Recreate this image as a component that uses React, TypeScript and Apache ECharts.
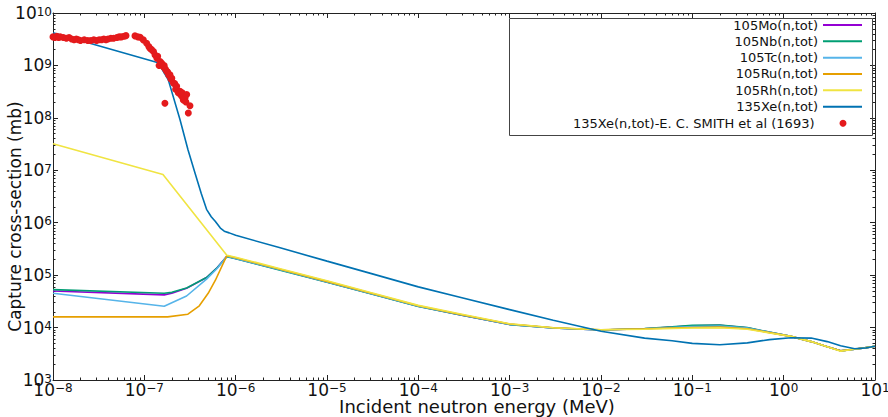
import React, { useEffect, useRef } from 'react';
import * as echarts from 'echarts';

// ---- axis decades (tick labels are 10^n) ----
const xDecades = [-8, -7, -6, -5, -4, -3, -2, -1, 0, 1];
const yDecades = [3, 4, 5, 6, 7, 8, 9, 10];

// ---- series values: [energy (MeV), cross-section (mb)] ----
const mo105: [number, number][] = [
  [1e-8, 5.0e4], [1.65e-7, 4.2e4], [2.0e-7, 4.5e4], [2.9e-7, 5.6e4], [4.8e-7, 9.0e4],
  [6.3e-7, 1.4e5], [8e-7, 2.3e5], [1e-6, 2.08e5], [3e-6, 1.28e5], [1e-5, 7.4e4],
  [3e-5, 4.45e4], [1e-4, 2.55e4], [3e-4, 1.73e4], [1e-3, 1.15e4], [3e-3, 9.8e3],
  [1e-2, 9.0e3], [3e-2, 9.5e3], [6e-2, 1.02e4], [1e-1, 1.08e4], [2e-1, 1.1e4],
  [4e-1, 9.9e3], [7e-1, 8.1e3], [1.2, 6.8e3], [2, 5.4e3], [3, 4.3e3], [4.2, 3.6e3],
  [6, 3.85e3], [8, 4.15e3], [10, 4.4e3],
];
const nb105: [number, number][] = [
  [1e-8, 5.3e4], [1.65e-7, 4.5e4], [2.0e-7, 4.7e4], [2.9e-7, 5.7e4], [4.8e-7, 9.0e4],
  [6.3e-7, 1.4e5], [8e-7, 2.25e5], [1e-6, 2.05e5], [3e-6, 1.26e5], [1e-5, 7.3e4],
  [3e-5, 4.4e4], [1e-4, 2.52e4], [3e-4, 1.72e4], [1e-3, 1.14e4], [3e-3, 9.8e3],
  [1e-2, 9.0e3], [3e-2, 9.6e3], [6e-2, 1.03e4], [1e-1, 1.1e4], [2e-1, 1.12e4],
  [4e-1, 1.0e4], [7e-1, 8.2e3], [1.2, 6.8e3], [2, 5.4e3], [3, 4.3e3], [4.2, 3.6e3],
  [6, 3.85e3], [8, 4.15e3], [10, 4.4e3],
];
const tc105: [number, number][] = [
  [1e-8, 4.5e4], [1.65e-7, 2.55e4], [2.9e-7, 4.0e4], [4.8e-7, 8.4e4], [6.3e-7, 1.35e5],
  [8e-7, 2.3e5], [1e-6, 2.08e5], [3e-6, 1.28e5], [1e-5, 7.4e4], [3e-5, 4.45e4],
  [1e-4, 2.55e4], [3e-4, 1.74e4], [1e-3, 1.15e4], [3e-3, 9.8e3], [1e-2, 9.0e3],
  [3e-2, 9.5e3], [6e-2, 1.0e4], [1e-1, 1.05e4], [2e-1, 1.07e4], [4e-1, 9.8e3],
  [7e-1, 8.1e3], [1.2, 6.8e3], [2, 5.4e3], [3, 4.3e3], [4.2, 3.6e3], [6, 3.85e3],
  [8, 4.15e3], [10, 4.4e3],
];
const ru105: [number, number][] = [
  [1e-8, 1.6e4], [1.8e-7, 1.6e4], [3.0e-7, 1.8e4], [4.0e-7, 2.6e4], [5.0e-7, 4.5e4],
  [6.0e-7, 8.0e4], [8e-7, 2.35e5], [1e-6, 2.15e5], [3e-6, 1.31e5], [1e-5, 7.6e4],
  [3e-5, 4.55e4], [1e-4, 2.6e4], [3e-4, 1.76e4], [1e-3, 1.17e4], [3e-3, 9.9e3],
  [1e-2, 9.1e3], [3e-2, 9.5e3], [6e-2, 9.8e3], [1e-1, 1.0e4], [2e-1, 1.02e4],
  [4e-1, 9.5e3], [7e-1, 8.0e3], [1.2, 6.8e3], [2, 5.4e3], [3, 4.3e3], [4.2, 3.6e3],
  [6, 3.9e3], [8, 4.15e3], [10, 4.4e3],
];
const rh105: [number, number][] = [
  [1e-8, 3.2e7], [1.6e-7, 8.3e6], [8e-7, 2.4e5], [1e-6, 2.2e5], [3e-6, 1.34e5],
  [1e-5, 7.8e4], [3e-5, 4.65e4], [1e-4, 2.65e4], [3e-4, 1.8e4], [1e-3, 1.18e4],
  [3e-3, 9.9e3], [1e-2, 9.1e3], [3e-2, 9.3e3], [6e-2, 9.6e3], [1e-1, 9.8e3],
  [2e-1, 9.9e3], [4e-1, 9.3e3], [7e-1, 7.9e3], [1.2, 6.8e3], [2, 5.4e3], [3, 4.3e3],
  [4.2, 3.55e3], [6, 3.85e3], [8, 4.15e3], [10, 4.4e3],
];
const xe135: [number, number][] = [
  [1e-8, 4.2e9], [1.42e-7, 1.12e9], [1.83e-7, 5.3e8], [2.46e-7, 9.2e7], [3.0e-7, 2.5e7],
  [3.6e-7, 8.7e6], [4.2e-7, 3.6e6], [4.8e-7, 1.8e6], [5.4e-7, 1.3e6], [6.0e-7, 1.05e6],
  [6.8e-7, 7.9e5], [7.5e-7, 6.9e5], [8.5e-7, 6.4e5],
  [1e-6, 5.75e5], [3e-6, 3.36e5], [1e-5, 1.85e5], [3e-5, 1.08e5], [1e-4, 5.97e4],
  [3e-4, 3.7e4], [1e-3, 2.2e4], [3e-3, 1.38e4], [1e-2, 8.5e3], [3e-2, 6.3e3],
  [6e-2, 5.6e3], [1e-1, 5.0e3], [2e-1, 4.7e3], [4e-1, 5.1e3], [7e-1, 5.9e3],
  [1.2, 6.4e3], [2, 6.3e3], [3, 5.4e3], [4.2, 4.5e3], [6, 3.95e3], [8, 4.1e3], [10, 4.4e3],
];
const smithExp: [number, number][] = [
  [1.0e-8, 3.5e9], [1.05e-8, 3.4e9], [1.1e-8, 3.6e9], [1.15e-8, 3.4e9], [1.2e-8, 3.5e9],
  [1.3e-8, 3.4e9], [1.4e-8, 3.3e9], [1.5e-8, 3.4e9], [1.6e-8, 3.2e9], [1.7e-8, 3.1e9],
  [1.8e-8, 3.2e9], [1.9e-8, 3.1e9], [2.0e-8, 3.0e9], [2.2e-8, 3.1e9], [2.4e-8, 3.0e9],
  [2.6e-8, 3.0e9], [2.8e-8, 3.1e9], [3.0e-8, 3.0e9], [3.2e-8, 3.1e9], [3.4e-8, 3.1e9],
  [3.6e-8, 3.2e9], [3.8e-8, 3.1e9], [4.0e-8, 3.2e9], [4.3e-8, 3.3e9], [4.6e-8, 3.3e9],
  [5.0e-8, 3.4e9], [5.3e-8, 3.5e9], [5.6e-8, 3.5e9], [6.0e-8, 3.6e9], [6.3e-8, 3.7e9],
  [7.9e-8, 3.66e9], [8.5e-8, 3.5e9], [9.0e-8, 3.45e9], [9.75e-8, 3.07e9], [1.06e-7, 2.65e9],
  [1.12e-7, 2.3e9], [1.15e-7, 2.13e9], [1.2e-7, 2.0e9], [1.26e-7, 1.84e9], [1.31e-7, 1.58e9],
  [1.37e-7, 1.38e9], [1.4e-7, 1.5e9], [1.45e-7, 1.0e9], [1.49e-7, 1.19e9], [1.55e-7, 1.1e9],
  [1.61e-7, 9.5e8], [1.65e-7, 1.0e9], [1.7e-7, 8.5e8], [1.76e-7, 7.7e8], [1.8e-7, 7.5e8],
  [1.85e-7, 6.5e8], [1.91e-7, 6.6e8], [1.95e-7, 5.5e8], [2.0e-7, 5.7e8], [2.08e-7, 4.6e8],
  [2.15e-7, 4.5e8], [2.2e-7, 3.5e8], [2.26e-7, 4.0e8], [2.35e-7, 3.0e8], [2.46e-7, 3.2e8],
  [2.5e-7, 2.8e8], [2.56e-7, 2.6e8], [2.6e-7, 3.0e8], [2.67e-7, 2.2e8], [2.7e-7, 2.5e8],
  [2.79e-7, 2.4e8], [2.85e-7, 2.0e8], [2.91e-7, 2.8e8], [3.03e-7, 1.24e8], [3.16e-7, 1.7e8],
  [1.68e-7, 1.9e8],
];

const lineNames = ['105Mo(n,tot)', '105Nb(n,tot)', '105Tc(n,tot)', '105Ru(n,tot)', '105Rh(n,tot)', '135Xe(n,tot)'];
const lineData = [mo105, nb105, tc105, ru105, rh105, xe135];
const lineColors = ['#9400d3', '#009e73', '#56b4e9', '#e69f00', '#f0e442', '#0072b2'];
const scatterName = '135Xe(n,tot)-E. C. SMITH et al (1693)';
const scatterColor = '#e41a1c';

export default function App() {
  const ref = useRef<HTMLDivElement>(null);
  useEffect(() => {
    if (!ref.current) return;
    const chart = echarts.init(ref.current, null, { renderer: 'svg' });
    const font = 'DejaVu Sans';
    const axisColor = '#222';
    const minorX: number[] = [];
    xDecades.slice(0, -1).forEach((n) => { for (let k = 2; k <= 9; k++) minorX.push(n + Math.log10(k)); });
    const minorY: number[] = [];
    yDecades.slice(0, -1).forEach((n) => { for (let k = 2; k <= 9; k++) minorY.push(n + Math.log10(k)); });

    const supFmt = (v: number) => {
      const e = Math.round(Math.log10(v));
      return `{b|10}{s|${e < 0 ? '\u2212' + -e : e}}`;
    };
    const rich = {
      b: { fontSize: 17, fontFamily: font, color: '#111', lineHeight: 15 },
      s: { fontSize: 12, fontFamily: font, color: '#111', lineHeight: 10, verticalAlign: 'top' },
    };

    const deco = (dim: 'x' | 'y', position: string, ticks: number[], len: number, showLine: boolean) => ({
      type: 'value',
      min: dim === 'x' ? -8 : 3,
      max: dim === 'x' ? 1 : 10,
      position,
      gridIndex: 0,
      axisLine: { show: showLine, onZero: false, lineStyle: { color: axisColor, width: 1 } },
      axisTick: { show: true, inside: true, length: len, customValues: ticks, lineStyle: { color: axisColor, width: 1 } },
      axisLabel: { show: false },
      splitLine: { show: false },
      silent: true,
    });

    const option: any = {
      animation: false,
      backgroundColor: '#fff',
      grid: { left: 53, right: 13, top: 13, bottom: 37, containLabel: false, outerBoundsMode: 'none' },
      xAxis: [
        {
          type: 'log', min: 1e-8, max: 10, position: 'bottom', logBase: 10,
          name: 'Incident neutron energy (MeV)', nameLocation: 'middle', nameGap: 18, nameMoveOverlap: false,
          nameTextStyle: { fontSize: 18, lineHeight: 16, fontFamily: font, color: '#111', padding: [0, 0, 0, 26] },
          axisLine: { show: true, onZero: false, lineStyle: { color: axisColor, width: 1 } },
          axisTick: { show: true, inside: true, length: 5, lineStyle: { color: axisColor } },
          axisLabel: { formatter: supFmt, rich, margin: 2, interval: 0, showMinLabel: true, showMaxLabel: true, hideOverlap: false },
          splitLine: { show: false },
          minorTick: { show: false },
        },
        deco('x', 'bottom', minorX, 2.5, false),
        deco('x', 'top', xDecades, 5, true),
        deco('x', 'top', minorX, 2.5, false),
      ],
      yAxis: [
        {
          type: 'log', min: 1e3, max: 1e10, position: 'left', logBase: 10,
          name: 'Capture cross-section (mb)', nameLocation: 'middle', nameGap: 30, nameMoveOverlap: false,
          nameTextStyle: { fontSize: 17, lineHeight: 17, fontFamily: font, color: '#111', padding: [0, 40, 0, 0] },
          axisLine: { show: true, onZero: false, lineStyle: { color: axisColor, width: 1 } },
          axisTick: { show: true, inside: true, length: 5, lineStyle: { color: axisColor } },
          axisLabel: { formatter: supFmt, rich, margin: 1, interval: 0, showMinLabel: true, showMaxLabel: true, hideOverlap: false },
          splitLine: { show: false },
        },
        deco('y', 'left', minorY, 2.5, false),
        deco('y', 'right', yDecades, 5, true),
        deco('y', 'right', minorY, 2.5, false),
      ],
      legend: [
        {
          data: lineNames.map((n) => ({ name: n, icon: 'rect' })),
          orient: 'vertical', align: 'right', right: 26, top: 18, padding: 0,
          itemWidth: 39, itemHeight: 2, itemGap: 2.33, selectedMode: false,
          textStyle: { fontSize: 13, fontFamily: font, color: '#111', lineHeight: 14 },
        },
        {
          data: [{ name: scatterName, icon: 'circle' }],
          orient: 'vertical', align: 'right', right: 41.5, top: 116.3, padding: 0,
          itemWidth: 7, itemHeight: 7, selectedMode: false,
          textStyle: { fontSize: 13, fontFamily: font, color: '#111', lineHeight: 14, padding: [0, 20, 0, 0] },
        },
      ],
      graphic: [
        {
          type: 'rect', left: 507, top: 16, silent: true, z: 10,
          shape: { width: 363, height: 117 },
          style: { fill: 'none', stroke: '#444', lineWidth: 1 },
        },
      ],
      series: [
        ...lineNames.map((name, i) => ({
          name, type: 'line', data: lineData[i], xAxisIndex: 0, yAxisIndex: 0,
          symbol: 'none', showSymbol: false, smooth: false,
          lineStyle: { color: lineColors[i], width: 1.6 }, itemStyle: { color: lineColors[i] },
          emphasis: { disabled: true }, z: 2 + i * 0.01,
        })),
        {
          name: scatterName, type: 'scatter', data: smithExp, xAxisIndex: 0, yAxisIndex: 0,
          symbol: 'circle', symbolSize: 7, itemStyle: { color: scatterColor, opacity: 1 },
          emphasis: { disabled: true }, z: 3,
        },
      ],
    };
    chart.setOption(option);
    return () => chart.dispose();
  }, []);
  return <div ref={ref} style={{ position: 'fixed', left: 0, top: 0, width: 888, height: 417, background: '#fff' }} />;
}
